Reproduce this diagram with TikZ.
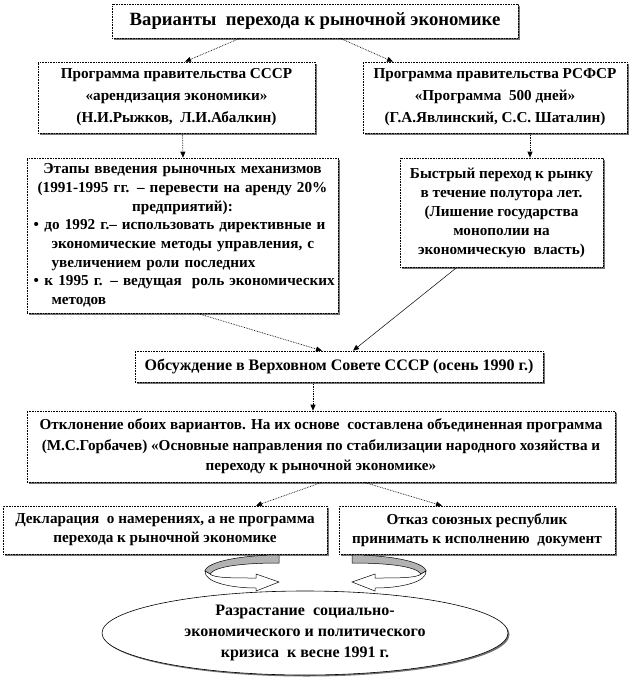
\documentclass[tikz,border=0pt]{standalone}
\usepackage{fontspec}
\setmainfont{Liberation Serif}
\usetikzlibrary{arrows.meta,shapes.geometric,shadows}
\begin{document}
\begin{tikzpicture}[x=1pt,y=-1pt,
  box/.style={draw, densely dotted, line width=0.6pt, fill=white, inner sep=0pt, align=center,
     font=\fontsize{15.2}{19}\selectfont\bfseries,
     drop shadow={shadow xshift=2pt, shadow yshift=-2pt, fill=black!55, opacity=1}},
  wide/.style={font=\fontsize{15.2}{22}\selectfont\bfseries},
  titlefont/.style={font=\fontsize{18.7}{22}\selectfont\bfseries},
  oval/.style={ellipse, draw, line width=0.6pt, fill=white, inner sep=0pt, align=center,
     font=\fontsize{16}{21}\selectfont\bfseries,
     drop shadow={shadow xshift=1.5pt, shadow yshift=-1.5pt, fill=black!55, opacity=1}},
  conn/.style={densely dotted, line width=0.7pt, -{Triangle[length=6pt,width=5pt]}},
  solidconn/.style={line width=0.5pt, -{Triangle[length=6pt,width=5pt]}},
  backband/.style={draw, line width=0.5pt, fill=black!30},
  frontband/.style={draw, line width=0.5pt, fill=white}
]
\fill[white] (0,0) rectangle (630,687);
\useasboundingbox (0,0) rectangle (630,687);

\node[box, titlefont, minimum width=406, minimum height=34] (T) at (315,21)
  {Варианты\ \ перехода к рыночной экономике};

\node[box, wide, minimum width=277, minimum height=71] (B2) at (176.5,97.5)
  {Программа правительства СССР\\«арендизация экономики»\\(Н.И.Рыжков,\ \ Л.И.Абалкин)};
\node[box, wide, minimum width=264, minimum height=71] (B3) at (495,97.5)
  {Программа правительства РСФСР\\«Программа\ \ 500 дней»\\(Г.А.Явлинский, С.С. Шаталин)};

\node[box, align=left, text width=298, inner xsep=6.5pt, minimum height=155,
      font=\fontsize{15.2}{18.7}\selectfont\bfseries] (B4) at (182.5,235.5)
  {\parindent=0pt\parskip=0pt
   \centering
   \mbox{Этапы введения рыночных механизмов}\\
   \mbox{(1991-1995 гг. – перевести на аренду 20\%}\\
   \mbox{предприятий):}\par
   \raggedright
   \mbox{\makebox[11pt][l]{•}до 1992 г.– использовать директивные и}\\
   \mbox{\hspace*{18pt}экономические методы управления, с}\\
   \mbox{\hspace*{18pt}увеличением роли последних}\\
   \mbox{\makebox[11pt][l]{•}к 1995 г. – ведущая\ \ роль экономических}\\
   \mbox{\hspace*{18pt}методов}};

\node[box, minimum width=203, minimum height=109] (B5) at (501.5,212.5)
  {Быстрый переход к рынку\\в течение полутора лет.\\(Лишение государства\\монополии на\\экономическую\ \ власть)};

\node[box, minimum width=408, minimum height=31, font=\fontsize{16}{19}\selectfont\bfseries] (B6) at (339,366.5)
  {Обсуждение в Верховном Совете СССР (осень 1990 г.)};

\node[box, minimum width=588, minimum height=71, font=\fontsize{15.2}{20.5}\selectfont\bfseries] (B7) at (321,446.5)
  {Отклонение обоих вариантов. На их основе\ \ составлена объединенная программа\\(М.С.Горбачев) «Основные направления по стабилизации народного хозяйства и\\переходу к рыночной экономике»};

\node[box, minimum width=324, minimum height=48] (B8) at (165,530)
  {Декларация\ \ о намерениях, а не программа\\перехода к рыночной экономике};
\node[box, minimum width=276, minimum height=48] (B9) at (477,530)
  {Отказ союзных республик\\принимать к исполнению\ \ документ};

\node[oval, minimum width=406, minimum height=84] (E) at (305,633)
  {Разрастание\ \ социально-\\экономического и политического\\кризиса\ \ к весне 1991 г.};

% connectors
\draw[conn] ([xshift=-75pt]T.south) -- ([xshift=8.5pt]B2.north);
\draw[conn] ([xshift=25pt]T.south) -- ([xshift=-102pt]B3.north);
\draw[conn] ([xshift=6pt]B2.south) -- ([xshift=0.5pt]B4.north);
\draw[conn] ([xshift=35pt]B3.south) -- ([xshift=28.5pt]B5.north);
\draw[conn] ([xshift=14.5pt]B4.south) -- ([xshift=-17pt]B6.north);
\draw[solidconn] ([xshift=-44.5pt]B5.south) -- ([xshift=14pt]B6.north);
\draw[conn] ([xshift=-26pt]B6.south) -- ([xshift=-8pt]B7.north);
\draw[conn] ([xshift=1pt]B7.south) -- ([xshift=91pt]B8.north);
\draw[conn] ([xshift=43pt]B7.south) -- ([xshift=-35pt]B9.north);

% curved ring arrows
\path[backband] (279,555) .. controls (245,555) and (207,561) .. (205,571)
  -- (210,574) .. controls (215,566) and (245,563) .. (279,563) -- cycle;
\path[frontband] (205,571) .. controls (204,582) and (230,588) .. (256,588)
  -- (256,591) -- (279,582) -- (256,574) -- (256,578)
  .. controls (232,578) and (214,578) .. (210,574) -- cycle;

\path[backband] (352,555) .. controls (386,555) and (424,561) .. (426,571)
  -- (421,574) .. controls (416,566) and (386,563) .. (352,563) -- cycle;
\path[frontband] (426,571) .. controls (427,582) and (401,588) .. (375,588)
  -- (375,591) -- (352,582) -- (375,574) -- (375,578)
  .. controls (399,578) and (417,578) .. (421,574) -- cycle;
\end{tikzpicture}
\end{document}
